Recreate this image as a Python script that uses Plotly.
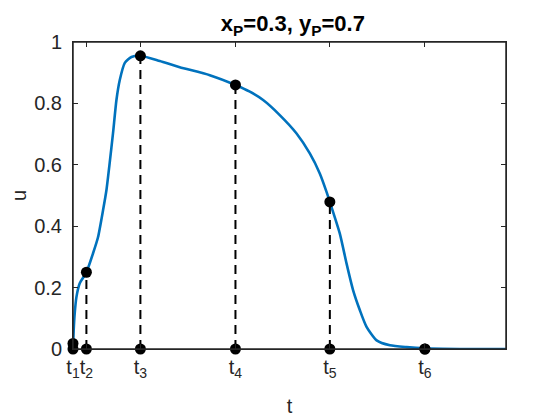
import plotly.graph_objects as go

# curve u(t)
t_curve = [0.0, 0.007, 0.018, 0.036, 0.071, 0.141, 0.211, 0.263, 0.316, 0.352,
           0.386, 0.421, 0.457, 0.492, 0.545, 0.615, 0.709, 0.913, 1.123, 1.439,
           1.709, 1.86, 2.0, 2.175, 2.352, 2.491, 2.596, 2.667, 2.702, 2.807,
           2.878, 2.947, 3.018, 3.088, 3.194, 3.334, 3.509, 3.702, 4.07, 4.555]
u_curve = [0.0, 0.06, 0.116, 0.169, 0.214, 0.25, 0.312, 0.364, 0.452, 0.518,
           0.606, 0.703, 0.811, 0.876, 0.932, 0.951, 0.955, 0.938, 0.918, 0.892,
           0.86, 0.838, 0.811, 0.762, 0.702, 0.637, 0.572, 0.512, 0.479, 0.376,
           0.278, 0.191, 0.126, 0.072, 0.028, 0.012, 0.006, 0.002, 0.0, 0.0]

# sample instants t1..t6 and their values
t_marks = [0.0, 0.141, 0.709, 1.709, 2.702, 3.702]
u_marks = [0.018, 0.25, 0.955, 0.86, 0.479, 0.0]
t_labels = ["t<sub>1</sub>", "t<sub>2</sub>", "t<sub>3</sub>",
            "t<sub>4</sub>", "t<sub>5</sub>", "t<sub>6</sub>"]
y_ticks = [0, 0.2, 0.4, 0.6, 0.8, 1]
y_labels = ["0", "0.2", "0.4", "0.6", "0.8", "1"]

FONT = "Liberation Sans, Arial, sans-serif"
AX = "#262626"

fig = go.Figure()

# box around the axes, like matlab's "box on"
fig.add_shape(type="rect", xref="paper", yref="paper", x0=0, x1=1, y0=0, y1=1,
              line=dict(color=AX, width=1.5), layer="above")

fig.add_trace(go.Scatter(x=t_curve, y=u_curve, mode="lines",
                         line=dict(color="#0072BD", width=2.6, shape="spline", smoothing=0.6),
                         cliponaxis=False, showlegend=False, hoverinfo="skip"))

# dashed drop lines
for tm, um in zip(t_marks, u_marks):
    fig.add_trace(go.Scatter(x=[tm, tm], y=[0, um], mode="lines",
                             line=dict(color="black", width=2, dash="9px,6px"),
                             showlegend=False, hoverinfo="skip"))

fig.add_trace(go.Scatter(x=t_marks, y=[0] * len(t_marks), mode="markers",
                         marker=dict(color="black", size=11),
                         cliponaxis=False, showlegend=False))
fig.add_trace(go.Scatter(x=t_marks, y=u_marks, mode="markers",
                         marker=dict(color="black", size=11),
                         cliponaxis=False, showlegend=False))

# page body has an 8px margin, so the figure is 8px smaller and margins shifted
fig.update_layout(
    width=552, height=412,
    margin=dict(l=65, r=54, t=34, b=71),
    paper_bgcolor="white", plot_bgcolor="white",
    font=dict(family=FONT, size=19, color=AX),
    title=dict(text="<b>x<sub>P</sub>=0.3, y<sub>P</sub>=0.7</b>",
               x=0.516, xanchor="center", y=0.962, yanchor="middle",
               font=dict(family=FONT, size=22, color="black")),
)
fig.update_xaxes(range=[0, 4.555], tickvals=t_marks, ticktext=t_labels,
                 tickangle=0, automargin=False,
                 showline=True, linecolor=AX, linewidth=1, mirror="ticks",
                 ticks="inside", ticklen=5, tickcolor=AX,
                 showgrid=False, zeroline=False,
                 tickfont=dict(size=20),
                 title=dict(text="t", font=dict(size=20), standoff=18))
fig.update_yaxes(range=[0, 1], tickvals=y_ticks, ticktext=y_labels,
                 automargin=False,
                 showline=True, linecolor=AX, linewidth=1, mirror="ticks",
                 ticks="inside", ticklen=5, tickcolor=AX,
                 showgrid=False, zeroline=False,
                 ticklabelstandoff=6, tickfont=dict(size=20),
                 title=dict(text="u", font=dict(size=20), standoff=8))

fig.write_html("out.html")
